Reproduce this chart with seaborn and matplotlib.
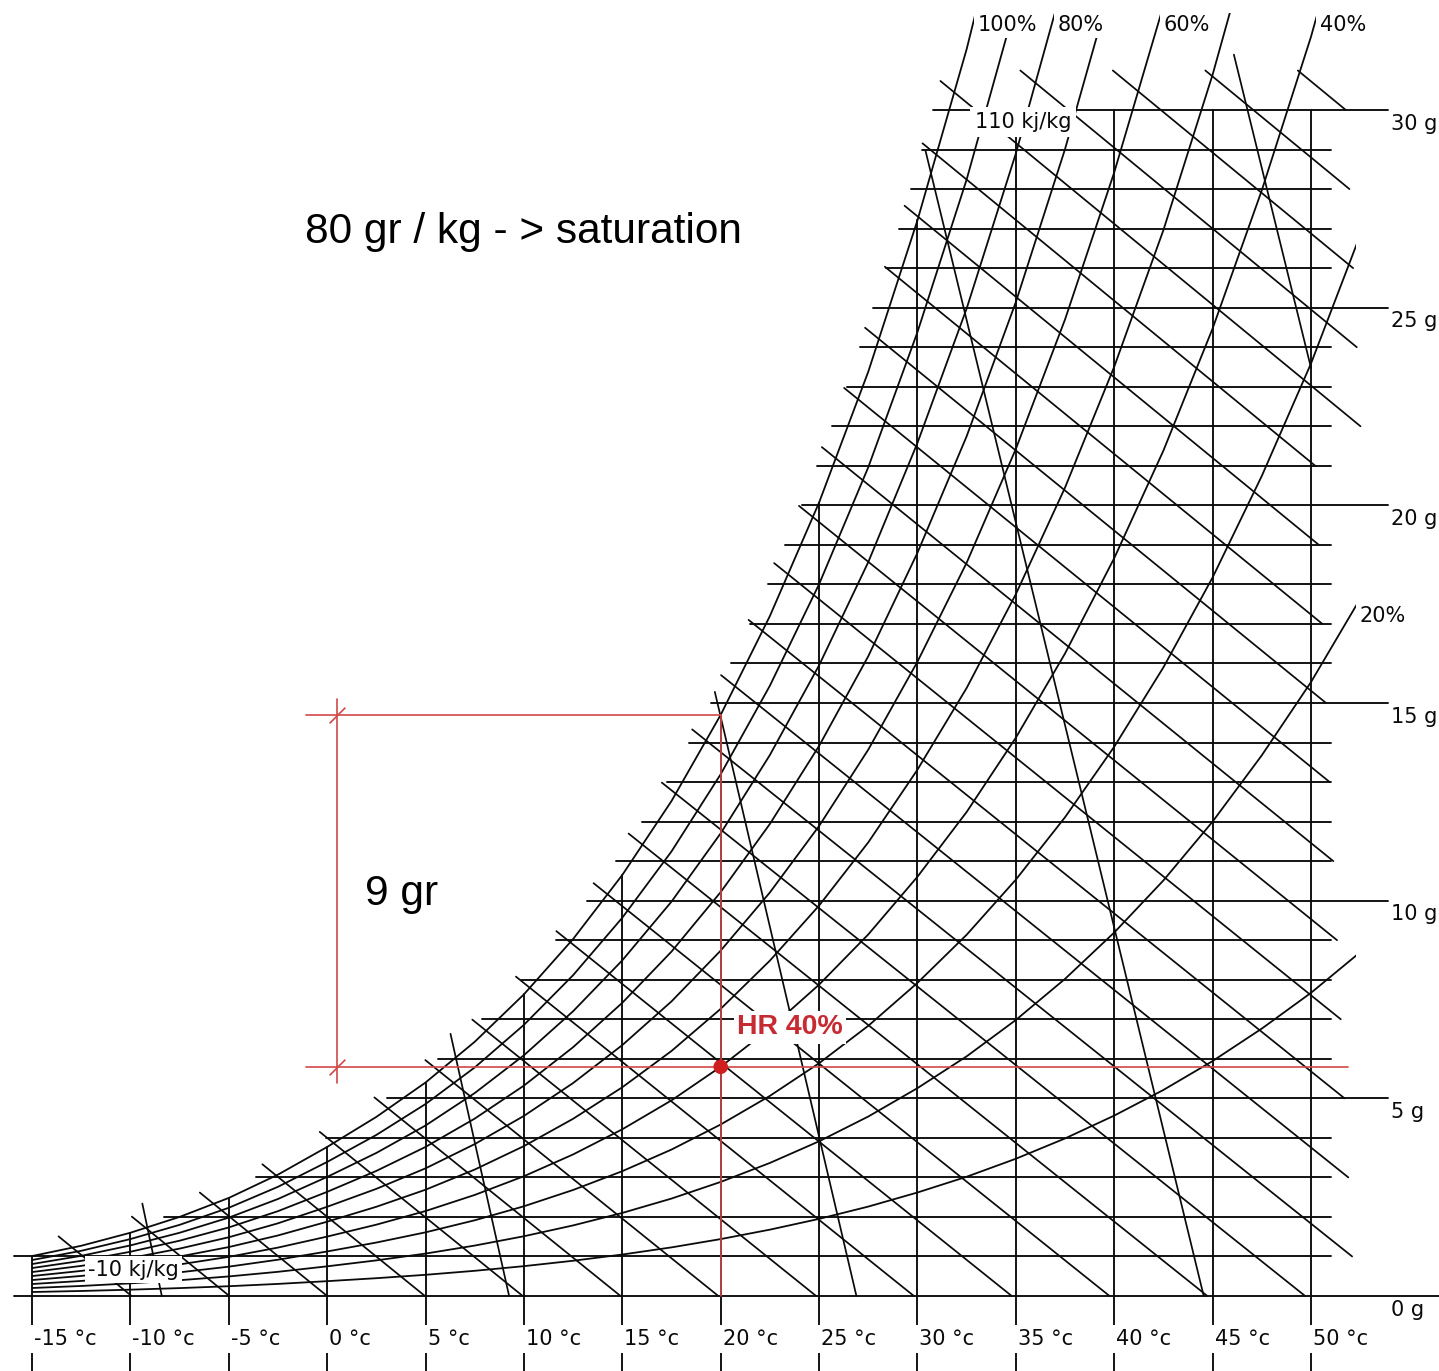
"""Psychrometric chart with a worked humidity example."""

import matplotlib
matplotlib.use("Agg")
import matplotlib.pyplot as plt
import numpy as np
import pandas as pd
import seaborn as sns
from matplotlib.patches import Rectangle

# dry-bulb grid (deg C)
temp_ticks = [-15, -10, -5, 0, 5, 10, 15, 20, 25, 30, 35, 40, 45, 50]
temp_labels = ["-15 °c", "-10 °c", "-5 °c", "0 °c", "5 °c", "10 °c", "15 °c",
               "20 °c", "25 °c", "30 °c", "35 °c", "40 °c", "45 °c", "50 °c"]

# moisture grid (g/kg)
moisture_lines = list(range(0, 31))
moisture_labels = [0, 5, 10, 15, 20, 25, 30]

# saturation curve (deg C -> g/kg)
sat_temp = [-17.5, -15, -12.5, -10, -7.5, -5, -2.5, 0, 2.5, 5, 7.5, 10, 12.5,
            15, 17.5, 20, 22.5, 25, 27.5, 30, 32.5, 35, 37.5, 40, 42.5, 45,
            47.5, 50, 52.5, 55]
sat_moisture = [0.76, 1.01, 1.27, 1.60, 2.00, 2.48, 3.07, 3.77, 4.53, 5.40,
                6.43, 7.63, 9.03, 10.65, 12.52, 14.70, 17.20, 20.07, 23.38,
                27.21, 31.54, 36.55, 42.29, 48.86, 56.37, 65.02, 74.98, 86.26,
                99.47, 114.5]

# relative humidity curves (%)
rh_levels = [100, 90, 80, 70, 60, 50, 40, 30, 20, 10]
rh_top_labels = [100, 80, 60, 40]
rh_side_labels = [20]

# enthalpy lines (kJ/kg) and specific volume lines (m3/kg)
enthalpy_levels = list(range(-10, 135, 5))
volume_levels = [0.75, 0.80, 0.85, 0.90, 0.95]

# worked example
state_temp = 20
state_rh = 40
state_label = "HR 40%"
note_label = "80 gr / kg - > saturation"
delta_label = "9 gr"

P_ATM = 1013.25
INK = "#0a0a0a"
RED = "#d24848"

# pixel calibration of the original chart
PX_C = 19.677
PX_G = 39.533
X0 = -15 - 32 / PX_C
X1 = X0 + 1439 / PX_C
Y1 = 30 + 110 / PX_G
Y0 = Y1 - 1371 / PX_G

sat_t = np.array(sat_temp)
sat_w = np.array(sat_moisture)
sat_p = P_ATM * sat_w / (622 + sat_w)


def rh_moisture(rh):
    pv = rh / 100 * sat_p
    return 622 * pv / (P_ATM - pv)


def enthalpy(t, w):
    return 1.006 * t + w * (2501 + 1.86 * t) / 1000


def enthalpy_temp(h, w):
    return (h - 2.501 * w) / (1.006 + 0.00186 * w)


def enthalpy_moist(h, t):
    return (h - 1.006 * t) / (2.501 + 0.00186 * t)


def volume(t, w):
    return 0.287042 * (t + 273.15) * (1 + 1.6078e-3 * w) / 101.325


def volume_temp(v, w):
    return v * 101.325 / (0.287042 * (1 + 1.6078e-3 * w)) - 273.15


def volume_moist(v, t):
    return (v * 101.325 / (0.287042 * (t + 273.15)) - 1) / 1.6078e-3


def curve_frame(curves):
    rows = []
    for key, (ts, ws) in curves.items():
        for t, w in zip(ts, ws):
            rows.append({"line": str(key), "t": float(t), "w": float(w)})
    return pd.DataFrame(rows)


sns.set_style("white")
plt.rcParams["font.family"] = ["DejaVu Sans"]

fig = plt.figure(figsize=(14.39, 13.71), dpi=100)
ax = fig.add_axes([0, 0, 1, 1])


def draw(curves, lw=1.35, clip=None):
    start = len(ax.lines)
    sns.lineplot(data=curve_frame(curves), x="t", y="w", units="line",
                 estimator=None, sort=False, color=INK, linewidth=lw,
                 legend=False, ax=ax)
    if clip is not None:
        for ln in ax.lines[start:]:
            ln.set_clip_path(clip)


# horizontal moisture lines
horiz = {}
for w in moisture_lines:
    ts = np.interp(max(w, 1), sat_w, sat_t) - 0.8
    if w == 0:
        te = X1
    elif w in moisture_labels:
        te = 53.9
    else:
        te = 51.0
    horiz[w] = ([ts, te], [w, w])
draw(horiz)

# vertical dry-bulb lines
vert = {}
for t in temp_ticks:
    top = min(np.interp(t, sat_t, sat_w), 30)
    vert[t] = ([t, t], [Y0 - 1, top])
draw(vert)

# relative humidity curves
rh_clip = Rectangle((-15, Y0 - 1), 52.3 + 15, 32.45 - Y0 + 1,
                    transform=ax.transData)
rh_curves = {rh: (sat_t[1:], rh_moisture(rh)[1:]) for rh in rh_levels}
draw(rh_curves, lw=1.3, clip=rh_clip)

# enthalpy lines
h_sat = enthalpy(sat_t, sat_w)
enth = {}
for h in enthalpy_levels:
    ts = np.interp(h, h_sat, sat_t) - 0.7
    ws = enthalpy_moist(h, ts)
    if ws > 31.0:
        ws = 31.0
        ts = enthalpy_temp(h, ws)
    if h / 1.006 <= 50.05:
        te, we = h / 1.006, 0.0
    else:
        we = np.floor(enthalpy_moist(h, 50.05))
        te = enthalpy_temp(h, we)
    enth[h] = ([ts, te], [ws, we])
draw(enth, lw=1.25)

# specific volume lines
v_sat = volume(sat_t, sat_w)
vol = {}
for v in volume_levels:
    t_s = np.interp(v, v_sat, sat_t)
    ws = min(np.interp(t_s, sat_t, sat_w) + 0.6, 31.4)
    ts = volume_temp(v, ws)
    te, we = volume_temp(v, 0), 0.0
    if te > 50:
        te = 50.0
        we = volume_moist(v, te)
    vol[v] = ([ts, te], [ws, we])
draw(vol, lw=1.25)

# worked example in red
w_sat_state = np.interp(state_temp, sat_t, sat_w)
w_state = np.interp(state_temp, sat_t, rh_moisture(state_rh))
dim_t = 0.5
left_t = -1.1
ax.plot([left_t, state_temp], [w_sat_state, w_sat_state], color=RED, lw=1.2, zorder=4)
ax.plot([left_t, 51.9], [w_state, w_state], color=RED, lw=1.2, zorder=4)
ax.plot([state_temp, state_temp], [0, w_sat_state], color=RED, lw=1.2, zorder=4)
ax.plot([dim_t, dim_t], [w_sat_state + 0.4, w_state - 0.4], color=RED, lw=1.2, zorder=4)
ax.plot([dim_t, dim_t], [w_sat_state, w_state], ls="none", marker=(2, 0, -45),
        ms=16, mec=RED, mew=1.2, zorder=4)
sns.scatterplot(x=[state_temp], y=[w_state], color="#d01f1f", s=110,
                edgecolor="none", zorder=6, ax=ax, legend=False)

label_box = dict(facecolor="white", edgecolor="none", pad=2.5)
side_box = dict(facecolor="white", edgecolor="none", pad=1.0)
small = dict(fontsize=15, color=INK, va="baseline", ha="left", zorder=5)

ax.text(20.83, 6.62, state_label, color="#c62a32", fontsize=20.5,
        fontweight="bold", family=["Liberation Sans", "DejaVu Sans"],
        va="baseline", ha="left", bbox=label_box, zorder=5)
ax.text(-1.13, 26.64, note_label, fontsize=30.5, color="black",
        family=["Liberation Sans", "DejaVu Sans"], va="baseline", ha="left")
ax.text(1.92, 9.89, delta_label, fontsize=30.5, color="black",
        family=["Liberation Sans", "DejaVu Sans"], va="baseline", ha="left")

# axis labels
for t, lab in zip(temp_ticks, temp_labels):
    ax.text(t + 0.1, -1.24, lab, bbox=label_box, **small)
for w in moisture_labels:
    ax.text(54.05, w - 0.5, f"{w} g", bbox=side_box, **small)

# curve labels
for rh in rh_top_labels:
    t_top = np.interp(32.45, rh_moisture(rh)[1:], sat_t[1:])
    ax.text(t_top + 0.12, 32.0, f"{rh}%", bbox=label_box, **small)
for rh in rh_side_labels:
    w_end = np.interp(52.3, sat_t, rh_moisture(rh))
    ax.text(52.45, w_end - 0.42, f"{rh}%", bbox=label_box, **small)

ax.text(32.92, 29.55, "110 kj/kg", bbox=dict(facecolor="white", edgecolor="none", pad=3.5), **small)
ax.text(-12.15, 0.51, "-10 kj/kg", bbox=label_box, **small)

ax.set_xlim(X0, X1)
ax.set_ylim(Y0, Y1)
ax.axis("off")

fig.savefig("out.png", dpi=100, facecolor="white")
plt.close(fig)
